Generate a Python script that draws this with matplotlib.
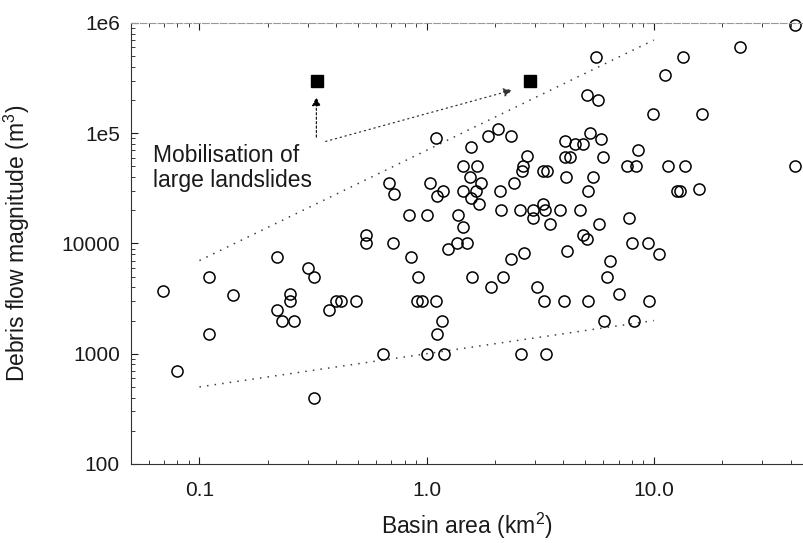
import matplotlib

matplotlib.use("Agg")
import matplotlib.pyplot as plt

plt.rcParams["font.family"] = ["Liberation Sans", "DejaVu Sans"]
plt.rcParams["mathtext.default"] = "regular"

# basin area (km2) and debris flow magnitude (m3)
area = [0.069, 0.080, 0.11, 0.11, 0.14, 0.22, 0.22, 0.23, 0.25, 0.25, 0.26, 0.30, 0.32, 0.32, 0.37, 0.40, 0.42, 0.49, 0.54, 0.54,
        0.71, 0.85, 0.92, 0.91, 0.95, 1.10, 1.17, 1.11, 0.64, 1.0, 1.19, 1.24, 1.36, 1.51, 1.45, 0.84, 1.0, 1.38, 1.58, 1.92,
        0.68, 0.72, 1.04, 1.18, 1.11, 1.45, 1.67, 1.55, 1.74, 1.45, 1.65, 1.57, 1.70, 1.10, 1.57, 1.87, 2.06, 2.11, 2.35,
        2.13, 2.58, 2.94, 3.26, 3.32, 2.94, 3.87, 4.74, 3.50, 2.43, 2.77, 2.66, 2.63, 3.26, 3.39, 4.11, 5.41, 5.14,
        4.07, 4.51, 4.89, 5.24, 5.86, 4.07, 4.28, 5.98, 5.09, 5.69, 5.57, 2.17, 2.35, 2.69, 2.61, 3.36, 3.06, 3.29, 4.03, 5.14,
        4.15, 4.89, 5.09, 5.74, 6.42, 6.23, 7.03, 6.04, 8.19, 7.79, 8.03, 9.44, 10.5, 9.53, 8.53, 7.63, 8.36, 11.6, 13.7,
        12.7, 13.1, 15.8, 9.9, 16.3, 13.5, 11.2, 24, 42, 42]
volume = [3700, 700, 5000, 1500, 3400, 7500, 2500, 2000, 3500, 3000, 2000, 6000, 5000, 400, 2500, 3000, 3000, 3000, 12000, 10000,
          10000, 7500, 5000, 3000, 3000, 3000, 2000, 1500, 1000, 1000, 1000, 9000, 10000, 10000, 14000, 18000, 18000, 18000, 5000, 4000,
          35000, 28000, 35000, 30000, 27000, 50000, 50000, 40000, 35000, 30000, 30000, 26000, 23000, 90000, 75000, 95000, 110000, 30000, 95000,
          20000, 20000, 20000, 23000, 20000, 17000, 20000, 20000, 15000, 35000, 62000, 50000, 45000, 45000, 45000, 40000, 40000, 30000,
          85000, 80000, 80000, 100000, 89000, 61000, 61000, 61000, 220000, 200000, 490000, 5000, 7200, 8200, 1000, 1000, 4000, 3000, 3000, 3000,
          8500, 12000, 11000, 15000, 7000, 5000, 3500, 2000, 2000, 17000, 10000, 10000, 8000, 3000, 70000, 50000, 50000, 50000, 50000,
          30000, 30000, 31000, 150000, 150000, 490000, 340000, 600000, 960000, 50000]

# large landslide mobilisation events
slide_area = [0.33, 2.86]
slide_volume = [300000, 300000]

# envelope lines
upper_env_x = [0.1, 10]
upper_env_y = [7000, 700000]
lower_env_x = [0.1, 10]
lower_env_y = [500, 2000]

xticks = [0.1, 1.0, 10.0]
xticklabels = ["0.1", "1.0", "10.0"]
yticks = [100, 1000, 10000, 100000, 1000000]
yticklabels = ["100", "1000", "10000", "1e5", "1e6"]

fig = plt.figure(figsize=(8.04, 5.43), dpi=100)
ax = fig.add_axes([0.163, 0.1455, 0.8477, 0.8122])
ax.set_xscale("log")
ax.set_yscale("log")
ax.set_xlim(0.05, 50)
ax.set_ylim(100, 1000000)

ax.plot(upper_env_x, upper_env_y, linestyle=(0, (1, 4)), color="0.25", lw=1.1)
ax.plot(lower_env_x, lower_env_y, linestyle=(0, (1, 4)), color="0.25", lw=1.1)

ax.plot(area, volume, "o", markersize=8, markerfacecolor="none", markeredgecolor="black",
        markeredgewidth=1.1, clip_on=False)
ax.plot(slide_area, slide_volume, "s", markersize=8.5, color="black")

ax.annotate("", xy=(0.327, 225000), xytext=(0.327, 87000),
            arrowprops=dict(arrowstyle="-|>", linestyle=(0, (2, 2)), color="black", lw=0.8, mutation_scale=13))
ax.annotate("", xy=(2.45, 250000), xytext=(0.35, 83000),
            arrowprops=dict(arrowstyle="-|>", linestyle=(0, (1, 3)), color="0.2", lw=0.9, mutation_scale=13))

ax.text(0.0625, 48000, "Mobilisation of\nlarge landslides", fontsize=16.5, color="#1a1a1a",
        ha="left", va="center", linespacing=1.1)

ax.set_xticks(xticks, xticklabels)
ax.set_yticks(yticks, yticklabels)
ax.tick_params(which="both", direction="in", top=True, right=False, labelsize=15, colors="#1a1a1a")
ax.tick_params(axis="y", which="major", length=5, pad=8)
ax.tick_params(axis="x", which="major", length=5, pad=12)
ax.tick_params(which="minor", length=3)

for side in ["left", "bottom"]:
    ax.spines[side].set_color("0.2")
ax.spines["top"].set_color("0.6")
ax.spines["top"].set_linestyle((0, (6, 2)))
ax.spines["right"].set_visible(False)

ax.set_xlabel("Basin area (km$^2$)", fontsize=16.5, color="#1a1a1a")
ax.set_ylabel("Debris flow magnitude (m$^3$)", fontsize=16.5, color="#1a1a1a")
ax.xaxis.set_label_coords(0.493, -0.105)
ax.yaxis.set_label_coords(-0.145, 0.50)

fig.savefig("out.png", dpi=100, facecolor="white")
